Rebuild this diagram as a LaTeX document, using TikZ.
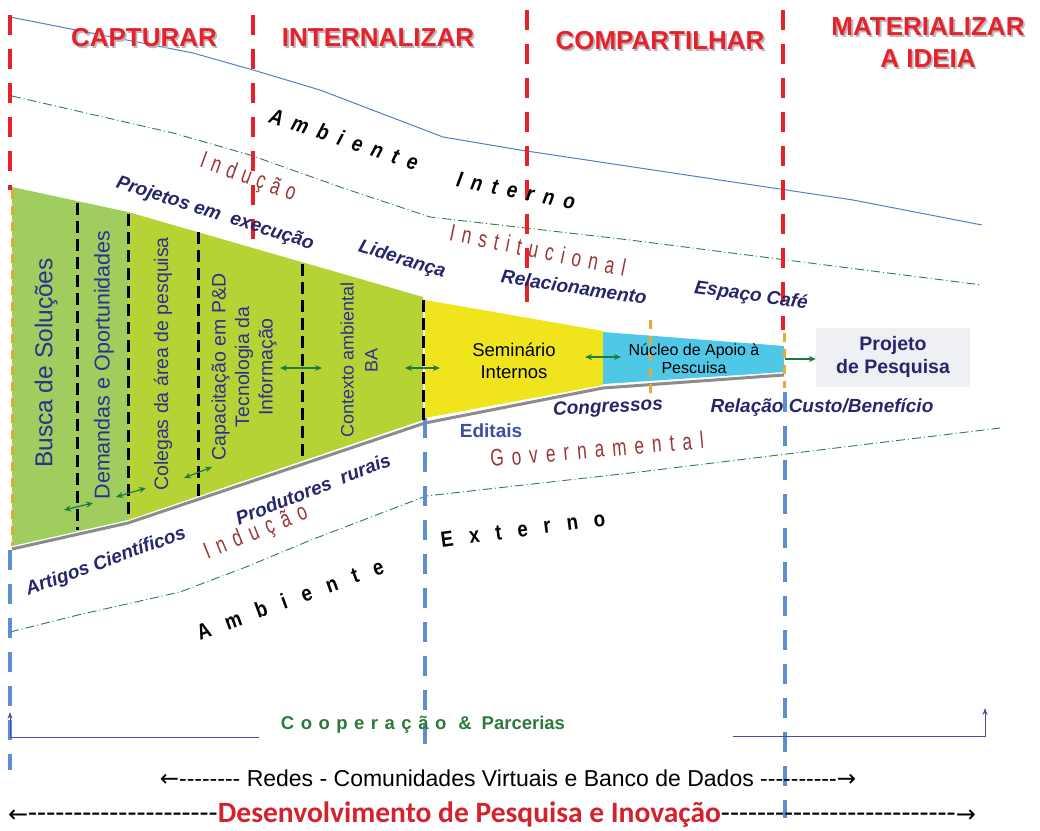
\documentclass[tikz,border=0pt]{standalone}
\usepackage{fontspec}
\setmainfont{Liberation Sans}
\newfontfamily\narrowfont{Liberation Sans}[FakeStretch=0.72]
\newfontfamily\semifont{Liberation Sans}[FakeStretch=0.85]
\newfontfamily\calfont{Carlito}
\newfontfamily\arrowfont{DejaVu Sans}
\usetikzlibrary{arrows.meta,calc}

\definecolor{phasered}{HTML}{E8202A}
\definecolor{lightgreen}{HTML}{9FCD5E}
\definecolor{limegreen}{HTML}{B6D335}
\definecolor{funnelyellow}{HTML}{F0E51C}
\definecolor{funnelcyan}{HTML}{4FC7E6}
\definecolor{boxgray}{HTML}{EEF0F4}
\definecolor{stagenavy}{HTML}{2D3090}
\definecolor{cuenavy}{HTML}{26266C}
\definecolor{brickred}{HTML}{9C3636}
\definecolor{arrowgreen}{HTML}{1F7A40}
\definecolor{lineblue}{HTML}{4F81C7}
\definecolor{dashblue}{HTML}{5B8FCF}
\definecolor{dashorange}{HTML}{E3A93A}
\definecolor{dotgreen}{HTML}{2F7F3F}
\definecolor{coopgreen}{HTML}{2B7A3A}
\definecolor{coopblue}{HTML}{4A4CA6}
\definecolor{editblue}{HTML}{3D4EA0}
\definecolor{devred}{HTML}{D2232D}

\tikzset{
  phase/.style={font=\fontsize{26}{32}\selectfont\bfseries, text=phasered, align=center},
  phaseshadow/.style={phase, text=black!28},
  stage/.style={rotate=90, text=stagenavy, align=center},
  cue/.style={font=\fontsize{19}{22}\selectfont\bfseries\itshape, text=cuenavy},
  spread/.style={execute at begin node={\spaceskip=#1\relax}},
  induct/.style={font=\narrowfont\fontsize{24}{26}\selectfont, text=brickred},
  ambient/.style={font=\semifont\fontsize{22}{24}\selectfont\bfseries, text=black},
  reddash/.style={draw=phasered, line width=4, dash pattern=on 20pt off 14pt},
  bluedash/.style={draw=dashblue, line width=4, dash pattern=on 20pt off 14pt},
  orangedash/.style={draw=dashorange, line width=3, dash pattern=on 9pt off 7pt},
  blackdash/.style={draw=black, line width=3, dash pattern=on 12pt off 6pt},
  dashdot/.style={draw=dotgreen, line width=0.9, dash pattern=on 9pt off 3pt on 1pt off 3pt},
  link/.style={arrowgreen, line width=1.2, {Stealth[length=7,width=6]}-{Stealth[length=7,width=6]}},
  linkto/.style={arrowgreen, line width=1.2, -{Stealth[length=7,width=6]}},
  coop/.style={coopblue, line width=1, -{Stealth[length=7,width=5]}}
}

\newcommand{\headline}[3]{%
  \node[phaseshadow] at ($(#2)+(1.8,1.8)$) {#3};
  \node[phase] (#1) at (#2) {#3};}
\newcommand{\dashrun}[1]{\foreach \k in {1,...,#1}{-\kern0pt}}

\begin{document}
\begin{tikzpicture}[x=1pt,y=-1pt]
\useasboundingbox (0,0) rectangle (1040,830);

% ambient borders
\draw[lineblue, line width=1] (10,17) -- (193,53) -- (253,70) -- (320,90) -- (443,137) -- (520,150) -- (773,188) -- (853,200) -- (982,225);
\draw[dashdot] (12,96) -- (173,133) -- (250,155) -- (343,188) -- (430,217) -- (630,240) -- (982,285);
\draw[dashdot] (10,632) -- (78,615) -- (180,592) -- (246,567) -- (311,540) -- (426,496) -- (639,472) -- (1000,428);

% funnel
\draw[black!45, line width=3] (12,549) -- (128,523) -- (425,423) -- (603,388) -- (784,375);
\fill[lightgreen] (12,187) -- (128,212) -- (128,520) -- (12,546) -- cycle;
\fill[limegreen] (128,212) -- (423,297) -- (423,420) -- (128,520) -- cycle;
\fill[funnelyellow] (425,300) -- (603,331) -- (603,385) -- (425,418) -- cycle;
\fill[funnelcyan] (603,332) -- (784,346) -- (784,372) -- (603,384) -- cycle;

% phase limits
\draw[reddash] (10,15) -- (10,190);
\draw[reddash] (253,15) -- (253,248);
\draw[reddash] (527,10) -- (527,305);
\draw[reddash] (783,10) -- (783,330);
\draw[orangedash] (12,190) -- (12,546);
\draw[orangedash] (650,320) -- (650,398);
\draw[orangedash] (784,333) -- (784,388);
\draw[bluedash] (10,550) -- (10,770);
\draw[bluedash] (425,418) -- (425,755);
\draw[bluedash] (785,392) -- (785,818);

\draw[blackdash] (77,203) -- (77,530);
\draw[blackdash] (128,214) -- (128,518);
\draw[blackdash] (198,232) -- (198,500);
\draw[blackdash] (302,264) -- (302,458);
\draw[blackdash] (423,300) -- (423,420);

% headers
\headline{capturar}{144,38}{CAPTURAR}
\headline{internalizar}{378,38}{INTERNALIZAR}
\headline{compartilhar}{660,41}{COMPARTILHAR}
\headline{materializar}{928,43}{MATERIALIZAR\\A IDEIA}

% stages
\node[stage, font=\fontsize{24.5}{27}\selectfont] (busca) at (46,363) {Busca de Soluções};
\node[stage, font=\fontsize{21.5}{24}\selectfont] (demandas) at (104,365) {Demandas e Oportunidades};
\node[stage, font=\fontsize{19.5}{22}\selectfont] (colegas) at (163,364) {Colegas da área de pesquisa};
\node[stage, font=\fontsize{19.5}{23.5}\selectfont] (capacitacao) at (244,367) {Capacitação em P\&D\\Tecnologia da\\Informação};
\node[stage, font=\fontsize{18}{24}\selectfont] (contexto) at (359,360) {Contexto ambiental\\BA};
\node[align=center, font=\fontsize{18.5}{22.5}\selectfont] (seminario) at (514,361) {Seminário\\Internos};
\node[align=center, font=\fontsize{16}{18}\selectfont] (nucleo) at (694,359) {Núcleo de Apoio à\\Pescuisa};
\node[fill=boxgray, minimum width=154, minimum height=59, align=center, text=cuenavy,
      font=\fontsize{19.5}{23}\selectfont\bfseries] (projeto) at (893,357) {Projeto\\de Pesquisa};

% links between stages
\coordinate (busca-r) at (64,510);   \coordinate (demandas-l) at (93,503);
\coordinate (demandas-r) at (116,497); \coordinate (colegas-l) at (146,488);
\coordinate (colegas-r) at (184,478); \coordinate (capacitacao-l) at (212,467);
\coordinate (capacitacao-r) at (280,368); \coordinate (contexto-l) at (322,368);
\coordinate (contexto-r) at (405,368); \coordinate (seminario-l) at (440,368);
\coordinate (seminario-r) at (585,357); \coordinate (nucleo-l) at (621,357);
\coordinate (nucleo-r) at (785,359);
\draw[link] (busca-r) -- (demandas-l);
\draw[link] (demandas-r) -- (colegas-l);
\draw[link] (colegas-r) -- (capacitacao-l);
\draw[link] (capacitacao-r) -- (contexto-l);
\draw[link] (contexto-r) -- (seminario-l);
\draw[link] (seminario-r) -- (nucleo-l);
\draw[linkto] (nucleo-r) -- (projeto.west |- nucleo-r);

% cues around the funnel
\node[cue, rotate=-17.5] (projetos) at (215,214) {Projetos em\ \ execução};
\node[cue, rotate=-17] (lideranca) at (402,260) {Liderança};
\node[cue, rotate=-8.5] (relacionamento) at (574,287) {Relacionamento};
\node[cue, rotate=-8] (espaco) at (751,296) {Espaço Café};
\node[cue, rotate=3] (congressos) at (608,408) {Congressos};
\node[cue] (relacao) at (822,407) {Relação Custo/Benefício};
\node[font=\fontsize{19}{22}\selectfont\bfseries, text=editblue] (editais) at (491,431) {Editais};
\node[cue, rotate=21.5] (produtores) at (313,489) {Produtores\ \ rurais};
\node[cue, rotate=20] (artigos) at (106,562) {Artigos Científicos};

\node[induct, spread=6.4pt, rotate=-20] (inducao-sup) at (248,178) {I n d u ç ã o};
\node[induct, spread=7.3pt, rotate=-11.5] (institucional) at (538,250) {I n s t i t u c i o n a l};
\node[induct, spread=8pt, rotate=5] (governamental) at (597,449) {G o v e r n a m e n t a l};
\node[induct, spread=8pt, rotate=22] (inducao-inf) at (256,533) {I n d u ç ã o};

\node[ambient, font=\semifont\fontsize{22}{24}\selectfont\bfseries\itshape, spread=10pt, rotate=-18] (ambiente-sup) at (344,139) {A m b i e n t e};
\node[ambient, font=\semifont\fontsize{22}{24}\selectfont\bfseries\itshape, spread=9.5pt, rotate=-11] (interno) at (516,191) {I n t e r n o};
\node[ambient, spread=16pt, rotate=20] (ambiente-inf) at (290,599) {A m b i e n t e};
\node[ambient, spread=16pt, rotate=7.5] (externo) at (523,529) {E x t e r n o};

% bottom
\coordinate (coop-ltip) at (10,712); \coordinate (coop-lc) at (10,737); \coordinate (coop-le) at (259,737);
\coordinate (coop-rtip) at (985,708); \coordinate (coop-rc) at (985,736); \coordinate (coop-rs) at (733,736);
\draw[coop] (coop-le) -- (coop-lc) -- (coop-ltip);
\draw[coop] (coop-rs) -- (coop-rc) -- (coop-rtip);
\node[font=\fontsize{18.5}{20}\selectfont\bfseries, text=coopgreen] (cooperacao) at (423,725)
  {{\spaceskip=6.5pt C o o p e r a ç ã o}\hspace{12pt}\&\hspace{10pt}Parcerias};
\node[font=\fontsize{23}{26}\selectfont] (redes) at (508,778)
  {{\arrowfont ←}\dashrun{8} Redes - Comunidades Virtuais e Banco de Dados \dashrun{10}{\arrowfont →}};
\node[font=\fontsize{29.5}{31}\selectfont\calfont] (desenvolvimento) at (492,815)
  {{\arrowfont\fontsize{24}{26}\selectfont ←}\dashrun{21}{\bfseries\color{devred}Desenvolvimento de Pesquisa e Inovação}\dashrun{26}{\arrowfont\fontsize{24}{26}\selectfont →}};
\end{tikzpicture}
\end{document}
